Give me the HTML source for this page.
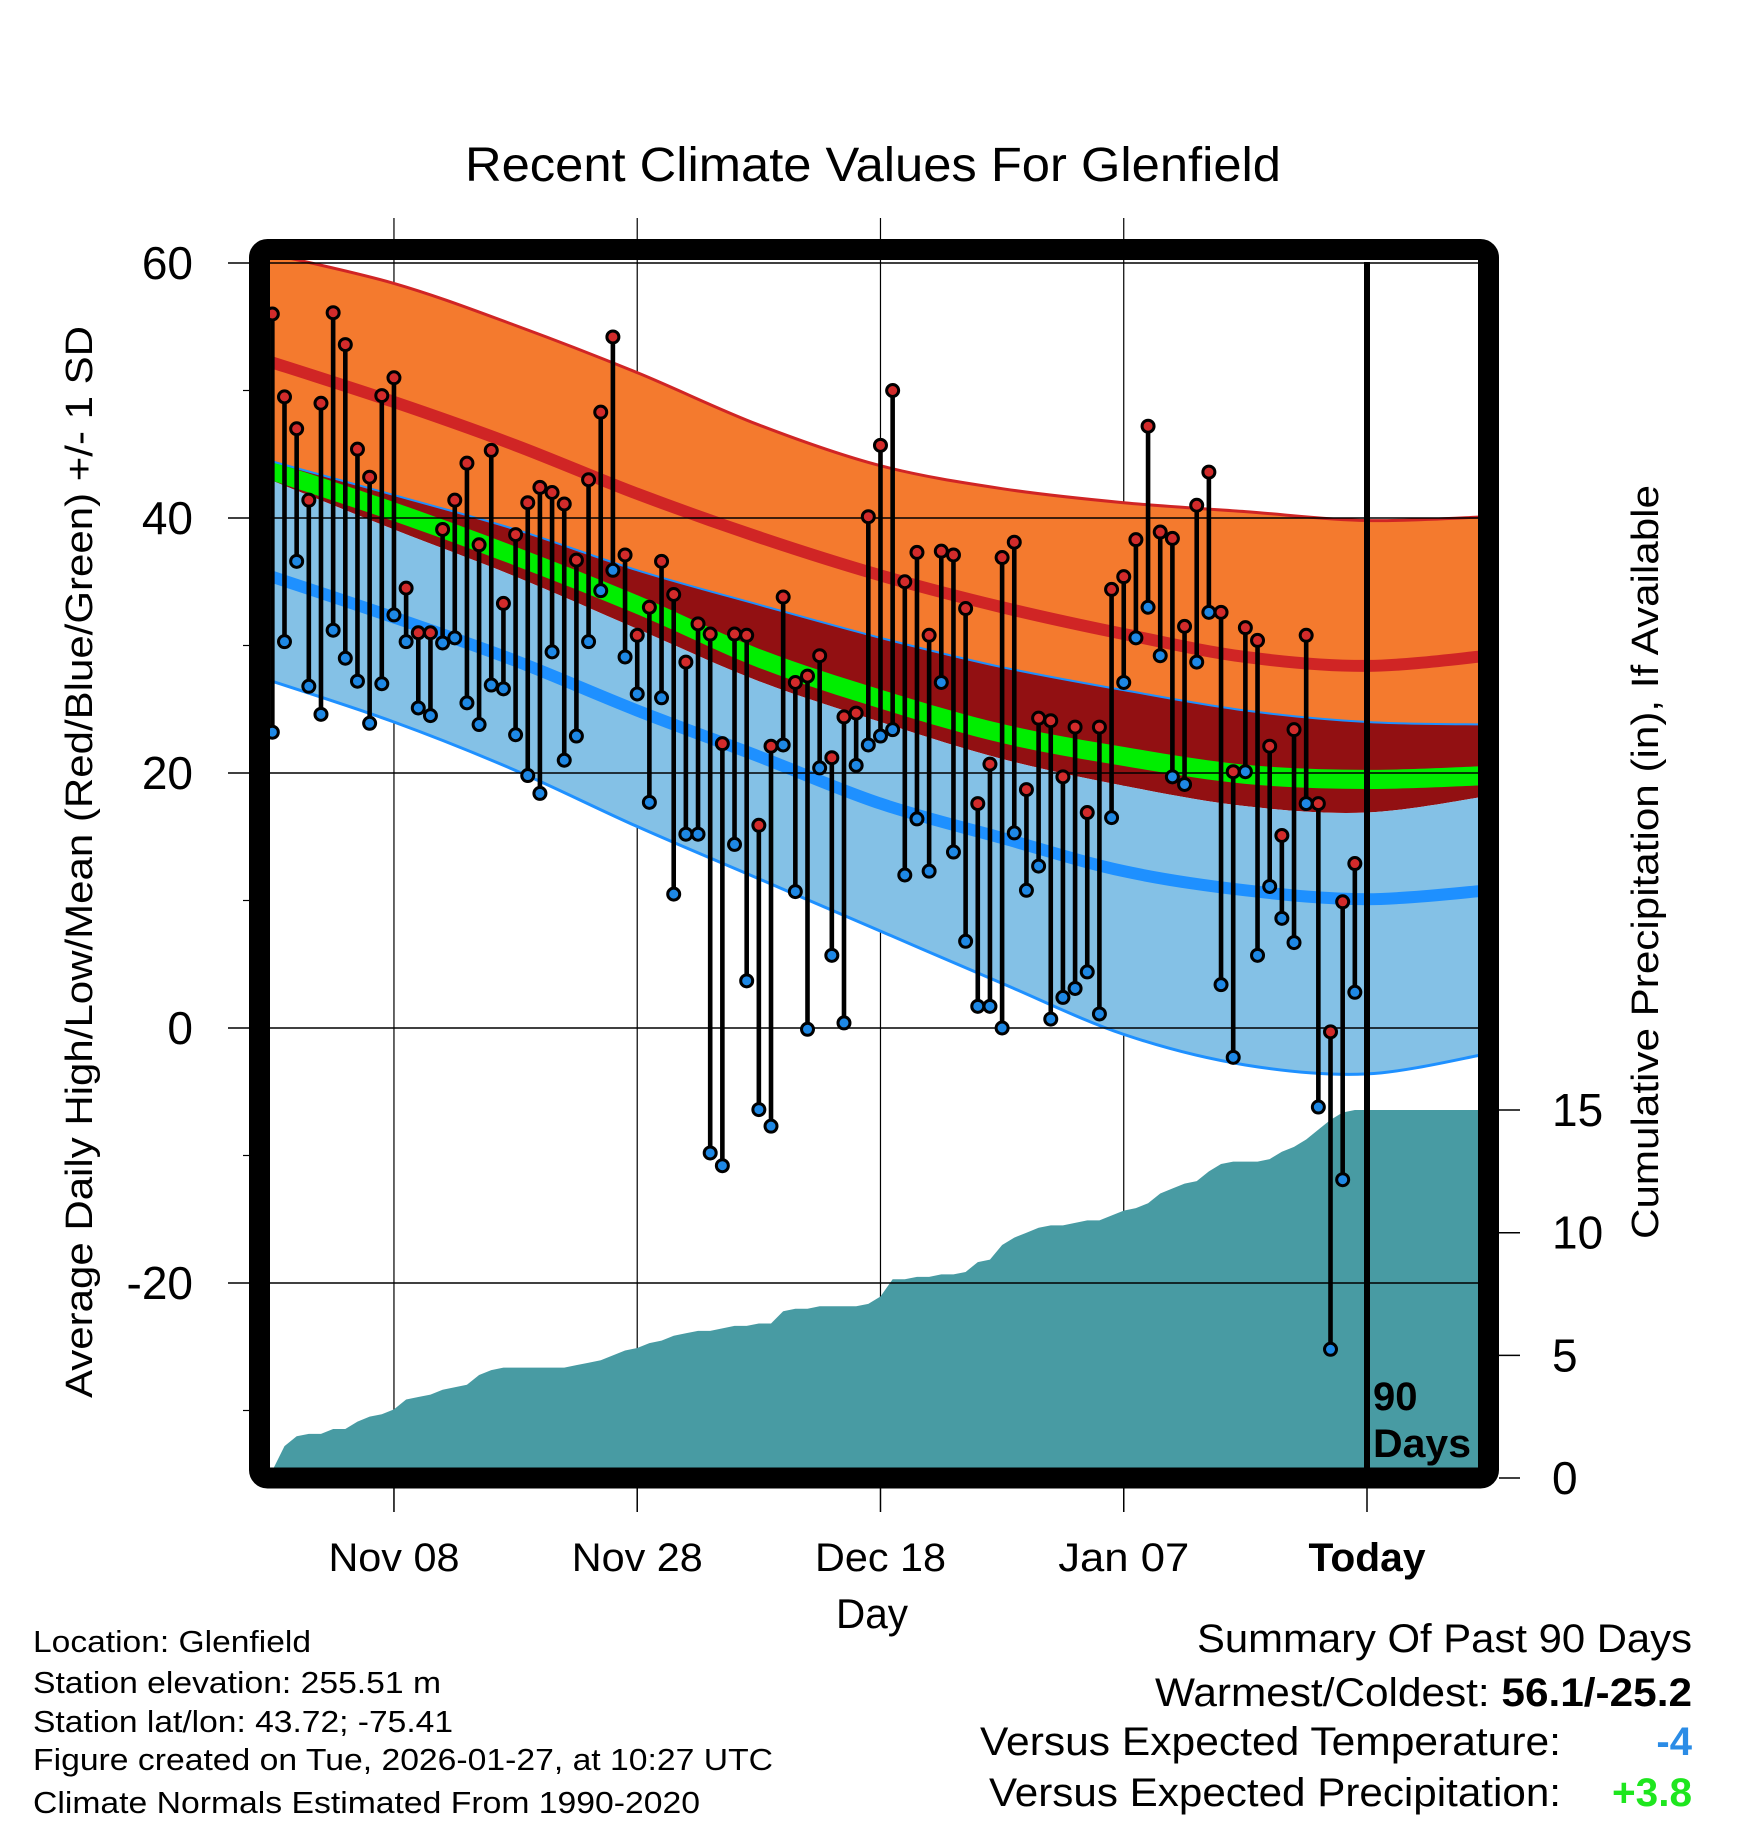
<!DOCTYPE html>
<html><head><meta charset="utf-8"><style>
html,body{margin:0;padding:0;background:#fff}
svg{display:block}
text{font-family:"Liberation Sans",sans-serif}
</style></head><body>
<svg id="chart" xmlns="http://www.w3.org/2000/svg" width="1748" height="1828" viewBox="0 0 1748 1828">
<defs><clipPath id="plotclip"><rect x="270" y="260" width="1208" height="1208"/></clipPath></defs>
<rect x="0" y="0" width="1748" height="1828" fill="#fff"/>
<g id="vgrid"></g>
<g id="plot" clip-path="url(#plotclip)"></g>
<g id="hgrid"></g>
<g id="marks"></g>
<rect x="259.5" y="249.5" width="1229" height="1228.5" rx="8" fill="none" stroke="#000" stroke-width="21"/>
<g id="axes"></g>
<text x="873" y="181" font-size="48" text-anchor="middle" textLength="816" lengthAdjust="spacingAndGlyphs">Recent Climate Values For Glenfield</text>
<text transform="translate(92,862) rotate(-90)" font-size="38" text-anchor="middle" textLength="1072" lengthAdjust="spacingAndGlyphs">Average Daily High/Low/Mean (Red/Blue/Green) +/- 1 SD</text>
<text transform="translate(1658,862) rotate(-90)" font-size="38" text-anchor="middle" textLength="754" lengthAdjust="spacingAndGlyphs">Cumulative Precipitation (in), If Available</text>
<text x="872" y="1628" font-size="42" text-anchor="middle" textLength="72" lengthAdjust="spacingAndGlyphs">Day</text>
<text font-size="40" font-weight="bold"><tspan x="1373" y="1410">90</tspan><tspan x="1373" y="1457" textLength="98" lengthAdjust="spacingAndGlyphs">Days</tspan></text>
<g font-size="31">
<text x="33" y="1652" textLength="278" lengthAdjust="spacingAndGlyphs">Location: Glenfield</text>
<text x="33" y="1693" textLength="408" lengthAdjust="spacingAndGlyphs">Station elevation: 255.51 m</text>
<text x="33" y="1732" textLength="420" lengthAdjust="spacingAndGlyphs">Station lat/lon: 43.72; -75.41</text>
<text x="33" y="1770" textLength="740" lengthAdjust="spacingAndGlyphs">Figure created on Tue, 2026-01-27, at 10:27 UTC</text>
<text x="33" y="1813" textLength="667" lengthAdjust="spacingAndGlyphs">Climate Normals Estimated From 1990-2020</text>
</g>
<g font-size="40">
<text x="1692" y="1652" text-anchor="end" textLength="495" lengthAdjust="spacingAndGlyphs">Summary Of Past 90 Days</text>
<text x="1692" y="1706" text-anchor="end" textLength="537" lengthAdjust="spacingAndGlyphs">Warmest/Coldest: <tspan font-weight="bold">56.1/-25.2</tspan></text>
<text x="1561" y="1755" text-anchor="end" textLength="581" lengthAdjust="spacingAndGlyphs">Versus Expected Temperature:</text>
<text x="1692" y="1755" text-anchor="end" font-weight="bold" fill="#2b8ce6">-4</text>
<text x="1561" y="1806" text-anchor="end" textLength="572" lengthAdjust="spacingAndGlyphs">Versus Expected Precipitation:</text>
<text x="1692" y="1806" text-anchor="end" font-weight="bold" fill="#1ee61e" textLength="80" lengthAdjust="spacingAndGlyphs">+3.8</text>
</g>
</svg>
<script>
// ---- data ----
const highs = [56.0,49.5,47.0,41.4,49.0,56.1,53.6,45.4,43.2,49.6,51.0,34.5,31.0,31.0,39.1,41.4,44.3,37.9,45.3,33.3,38.7,41.2,42.4,42.0,41.1,36.7,43.0,48.3,54.2,37.1,30.8,33.0,36.6,34.0,28.7,31.7,30.9,22.3,30.9,30.8,15.9,22.1,33.8,27.1,27.6,29.2,21.2,24.4,24.7,40.1,45.7,50.0,35.0,37.3,30.8,37.4,37.1,32.9,17.6,20.7,36.9,38.1,18.7,24.3,24.1,19.7,23.6,16.9,23.6,34.4,35.4,38.3,47.2,38.9,38.4,31.5,41.0,43.6,32.6,20.1,31.4,30.4,22.1,15.1,23.4,30.8,17.6,-0.3,9.9,12.9];
const lows = [23.2,30.3,36.6,26.8,24.6,31.2,29.0,27.2,23.9,27.0,32.4,30.3,25.1,24.5,30.2,30.6,25.5,23.8,26.9,26.6,23.0,19.8,18.4,29.5,21.0,22.9,30.3,34.3,35.9,29.1,26.2,17.7,25.9,10.5,15.2,15.2,-9.8,-10.8,14.4,3.7,-6.4,-7.7,22.2,10.7,-0.1,20.4,5.7,0.4,20.6,22.2,22.9,23.4,12.0,16.4,12.3,27.1,13.8,6.8,1.7,1.7,0.0,15.3,10.8,12.7,0.7,2.4,3.1,4.4,1.1,16.5,27.1,30.6,33.0,29.2,19.7,19.1,28.7,32.6,3.4,-2.3,20.1,5.7,11.1,8.6,6.7,17.6,-6.2,-25.2,-11.9,2.8];
const precip = [0.3,1.3,1.7,1.8,1.8,2.0,2.0,2.3,2.5,2.6,2.8,3.2,3.3,3.4,3.6,3.7,3.8,4.2,4.4,4.5,4.5,4.5,4.5,4.5,4.5,4.6,4.7,4.8,5.0,5.2,5.3,5.5,5.6,5.8,5.9,6.0,6.0,6.1,6.2,6.2,6.3,6.3,6.8,6.9,6.9,7.0,7.0,7.0,7.0,7.1,7.4,8.1,8.1,8.2,8.2,8.3,8.3,8.4,8.8,8.9,9.5,9.8,10.0,10.2,10.3,10.3,10.4,10.5,10.5,10.7,10.9,11.0,11.2,11.6,11.8,12.0,12.1,12.5,12.8,12.9,12.9,12.9,13.0,13.3,13.5,13.8,14.2,14.6,14.9,15.0];
const normDays = [-91,-80,-70,-60,-50,-40,-30,-20,-10,0,10];
const highPlusSD = [60.9,58.4,55.1,51.4,47.3,44.1,42.3,41.2,40.5,39.8,40.1];
const meanHigh = [52.5,49.1,45.7,41.9,38.5,35.5,33.0,30.9,29.1,28.4,29.2];
const highMinusSD = [44.7,41.8,39.1,35.9,33.2,30.6,28.3,26.5,24.9,24.0,23.8];
const meanTemp = [44.0,40.5,37.0,33.2,29.0,25.8,23.1,21.3,19.9,19.5,19.8];
const lowPlusSD = [43.3,39.1,35.4,31.3,27.2,24.0,21.1,19.0,17.4,16.9,18.2];
const meanLow = [35.7,32.2,28.8,24.9,21.3,17.6,14.9,12.3,10.8,10.1,10.8];
const lowMinusSD = [27.5,24.0,20.2,15.8,11.7,7.6,3.5,-0.5,-2.9,-3.6,-2.0];
const tempTicks = [60,40,20,0,-20];
const minorTicks = [50,30,10,-10,-30];
const precipTicks = [0,5,10,15];
const dateLabels = ["Nov 08","Nov 28","Dec 18","Jan 07","Today"];
const dateDays = [-80,-60,-40,-20,0];

// ---- scales ----
const X = d => 1367 + d * 12.163;
const YT = t => 1028 - t * 12.75;
const YP = p => 1478 - p * 24.53;
const NS = "http://www.w3.org/2000/svg";
function mk(tag, attrs, parent){const e=document.createElementNS(NS,tag);for(const k in attrs)e.setAttribute(k,attrs[k]);parent.appendChild(e);return e;}
function smoothPts(days, vals){
  const pts = days.map((d,i)=>[X(d),YT(vals[i])]);
  let s = `M${pts[0][0]},${pts[0][1]}`;
  for(let i=0;i<pts.length-1;i++){
    const p0=pts[Math.max(0,i-1)],p1=pts[i],p2=pts[i+1],p3=pts[Math.min(pts.length-1,i+2)];
    const c1=[p1[0]+(p2[0]-p0[0])/6,p1[1]+(p2[1]-p0[1])/6];
    const c2=[p2[0]-(p3[0]-p1[0])/6,p2[1]-(p3[1]-p1[1])/6];
    s+=` C${c1[0]},${c1[1]} ${c2[0]},${c2[1]} ${p2[0]},${p2[1]}`;
  }
  return s;
}
function bandPath(top, bot){
  const a = smoothPts(normDays, top);
  const rd = normDays.slice().reverse(), rb = bot.slice().reverse();
  const b = smoothPts(rd, rb).replace(/^M/,'L');
  return a + ' ' + b + ' Z';
}
const vg=document.getElementById('vgrid'), plot=document.getElementById('plot'),
      hg=document.getElementById('hgrid'), marks=document.getElementById('marks'), axes=document.getElementById('axes');

// vertical grid
dateDays.forEach((d,i)=>{
  if(d===0) return;
  const l=mk('line',{x1:X(d),x2:X(d),y1:218,y2:1468,stroke:'#000','stroke-width':1.2},vg);
  
  
});

// precip area
let pd = `M${X(-90)},1478`;
precip.forEach((p,i)=>{ pd += ` L${X(i-90)},${YP(p)}`; });
pd += ` L1478,${YP(precip[precip.length-1])} L1478,1478 Z`;
const pa = mk('path',{d:pd,fill:'#489ba3'},plot);



// normals
const bands = [
  ['high-sd-band', highPlusSD, highMinusSD, '#f47a2e'],
  ['overlap-band', highMinusSD, lowPlusSD, '#921012'],
  ['low-sd-band', lowPlusSD, lowMinusSD, '#84c1e6']
];
bands.forEach(b=>{
  const p=mk('path',{d:bandPath(b[1],b[2]),fill:b[3]},plot);
  
  
});
const meanBand = mk('path',{d:bandPath(meanTemp.map(v=>v+0.75),meanTemp.map(v=>v-0.75)),fill:'#00ee00'},plot);


const lines = [
  ['high-plus-sd-line', highPlusSD, '#d02525', 3],
  ['mean-high-line', meanHigh, '#d02525', 12],
  ['high-minus-sd-line', highMinusSD, '#1e90ff', 2],
  ['mean-low-line', meanLow, '#1e90ff', 12],
  ['low-minus-sd-line', lowMinusSD, '#1e90ff', 3]
];
lines.forEach(l=>{
  const p=mk('path',{d:smoothPts(normDays,l[1]),fill:'none',stroke:l[2],'stroke-width':l[3]},plot);
  
  
});

// horizontal grid + left ticks/labels
tempTicks.forEach(t=>{
  const l=mk('line',{x1:228,x2:1478,y1:YT(t),y2:YT(t),stroke:'#000','stroke-width':1.5},hg);
  
  
  const tx=mk('text',{x:193,y:YT(t)+16,'font-size':46,'text-anchor':'end'},axes);
  tx.textContent=String(t);
  
  
});
minorTicks.forEach(t=>{
  const l=mk('line',{x1:243,x2:250,y1:YT(t),y2:YT(t),stroke:'#000','stroke-width':1.2},axes);
  
  
});
precipTicks.forEach(p=>{
  const l=mk('line',{x1:1499,x2:1520,y1:YP(p),y2:YP(p),stroke:'#000','stroke-width':1.5},axes);
  
  
  const tx=mk('text',{x:1552,y:YP(p)+16,'font-size':46},axes);
  tx.textContent=String(p);
  
  
});
dateDays.forEach((d,i)=>{
  const l=mk('line',{x1:X(d),x2:X(d),y1:1488,y2:1512,stroke:'#000','stroke-width':1.5},axes);
  
  
  const tx=mk('text',{x:X(d),y:1571,'font-size':40,'text-anchor':'middle','font-weight':d===0?'bold':'normal',textLength:d===0?117:131,lengthAdjust:'spacingAndGlyphs'},axes);
  tx.textContent=dateLabels[i];
  
  
});

// today line
const tl=mk('line',{x1:X(0),x2:X(0),y1:262,y2:1468,stroke:'#000','stroke-width':6},marks);



// stems and dots
highs.forEach((h,i)=>{
  const x=X(i-90);
  const s=mk('line',{x1:x,x2:x,y1:YT(h),y2:YT(lows[i]),stroke:'#000','stroke-width':4.6},marks);
  
  
});
highs.forEach((h,i)=>{
  const x=X(i-90);
  const lo=mk('circle',{cx:x,cy:YT(lows[i]),r:6,fill:'#1e88e5',stroke:'#000','stroke-width':3},marks);
  
  
  const hi=mk('circle',{cx:x,cy:YT(h),r:6,fill:'#d22b2b',stroke:'#000','stroke-width':3},marks);
  
  
});
</script>
</body></html>
